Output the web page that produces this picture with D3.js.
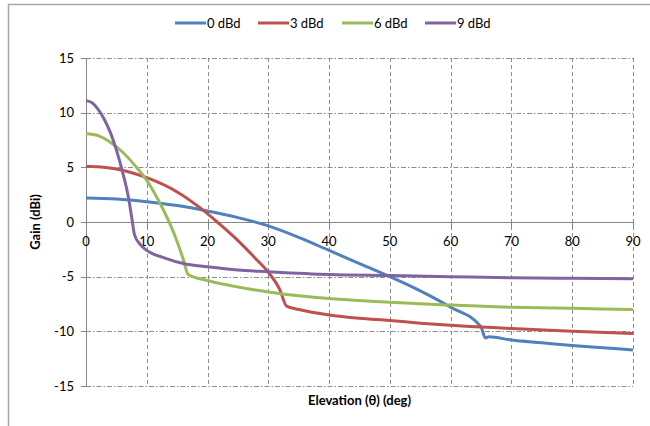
<!DOCTYPE html>
<html><head><meta charset="utf-8">
<script src="https://cdn.jsdelivr.net/npm/d3@7"></script>
<style>body{margin:0;background:#fff}svg{display:block}text{font-family:Lato,"Open Sans",sans-serif}</style>
</head><body><svg id="c" width="650" height="426"></svg>
<script>
const seriesNames = ["0 dBd","3 dBd","6 dBd","9 dBd"];
const seriesColors = ["#4F81BD","#C0504D","#9BBB59","#8064A2"];
const xTicks = [0,10,20,30,40,50,60,70,80,90];
const yTicks = [-15,-10,-5,0,5,10,15];

const elev0 = [0,5,10,15,20,25,30,35,40,45,50,55,60,65,65.7,66.3,70,75,80,85,90];
const gain0 = [2.2,2.1,1.85,1.5,1.0,0.4,-0.35,-1.4,-2.6,-3.8,-5.0,-6.3,-7.8,-9.6,-10.6,-10.5,-10.8,-11.05,-11.3,-11.5,-11.7];
const elev3 = [0,2,5,10,15,19,22,25,28,30,31.9,33,35,40,45,50,55,60,65,70,80,90];
const gain3 = [5.1,5.05,4.85,4.05,2.75,1.2,-0.2,-1.7,-3.4,-4.6,-6.2,-7.7,-8.0,-8.5,-8.8,-9.0,-9.25,-9.45,-9.6,-9.75,-10.0,-10.2];
const elev6 = [0,2,4,6,8,10,11,12,13,14,15,16,16.8,20,25,30,35,40,50,60,70,80,90];
const gain6 = [8.1,7.9,7.3,6.4,5.2,3.8,2.9,1.9,0.8,-0.4,-1.8,-3.4,-4.8,-5.35,-5.95,-6.4,-6.75,-7.0,-7.35,-7.6,-7.8,-7.9,-8.0];
const elev9 = [0,1,2,3,4,5,6,7,7.5,8,9,10,13,16,20,25,30,40,50,60,70,80,90];
const gain9 = [11.1,10.9,10.3,9.4,8.2,6.6,4.6,2.2,0.5,-1.2,-2.1,-2.6,-3.3,-3.8,-4.1,-4.4,-4.55,-4.8,-4.9,-5.0,-5.1,-5.15,-5.2];

const series = [[elev0,gain0],[elev3,gain3],[elev6,gain6],[elev9,gain9]].map((s,i)=>({
  name: seriesNames[i], color: seriesColors[i], pts: s[0].map((e,j)=>[e,s[1][j]])
}));

const svg = d3.select("#c");
// frame
svg.append("path").attr("d","M8.5,430 V4.5 H660").attr("fill","none").attr("stroke","#a6a6a6").attr("stroke-width",1.5);

const x = d3.scaleLinear().domain([0,90]).range([86,633]);
const y = d3.scaleLinear().domain([-15,15]).range([386,58]);

const grid = svg.append("g").attr("stroke","#8c8c8c").attr("stroke-width",1).attr("stroke-dasharray","5,2,1.5,2");
yTicks.filter(t=>t!==0).forEach(t=>{
  grid.append("line").attr("x1",x(0)).attr("x2",x(90)).attr("y1",Math.round(y(t))+0.5).attr("y2",Math.round(y(t))+0.5);
});
grid.selectAll(null).data(xTicks.filter(t=>t!==0)).enter().append("line")
  .attr("x1",d=>Math.round(x(d))+0.5).attr("x2",d=>Math.round(x(d))+0.5).attr("y1",y(15)).attr("y2",y(-15))
  .attr("stroke-dasharray","4,3");

// axes lines
const axG = svg.append("g").attr("stroke","#868686").attr("stroke-width",1);
axG.append("line").attr("x1",x(0)+0.5).attr("x2",x(0)+0.5).attr("y1",y(15)).attr("y2",y(-15));
axG.append("line").attr("x1",x(0)).attr("x2",x(90)).attr("y1",Math.round(y(0))+0.5).attr("y2",Math.round(y(0))+0.5);
yTicks.forEach(t=>axG.append("line").attr("x1",x(0)-5).attr("x2",x(0)).attr("y1",Math.round(y(t))+0.5).attr("y2",Math.round(y(t))+0.5));
xTicks.forEach(t=>axG.append("line").attr("x1",Math.round(x(t))+0.5).attr("x2",Math.round(x(t))+0.5).attr("y1",y(0)).attr("y2",y(0)+5));

// tick labels
svg.append("g").selectAll("text").data(yTicks).enter().append("text")
  .attr("x",x(0)-12).attr("y",d=>y(d)+4.5).attr("text-anchor","end").attr("font-size",13).attr("fill","#000").text(d=>d);
svg.append("g").selectAll("text").data(xTicks).enter().append("text")
  .attr("x",d=>x(d)).attr("y",y(0)+24).attr("text-anchor","middle").attr("font-size",13).attr("fill","#000").text(d=>d);

// lines
const line = d3.line().x(d=>x(d[0])).y(d=>y(d[1])).curve(d3.curveMonotoneX);
svg.append("g").selectAll("path").data(series).enter().append("path")
  .attr("d",d=>line(d.pts)).attr("fill","none").attr("stroke",d=>d.color).attr("stroke-width",3).attr("stroke-linejoin","round");

// titles
svg.append("text").attr("x",(x(0)+x(90))/2).attr("y",405).attr("text-anchor","middle").attr("font-size",13).attr("font-weight","bold").text("Elevation (θ) (deg)");
svg.append("text").attr("transform",`translate(40,${(y(15)+y(-15))/2}) rotate(-90)`).attr("text-anchor","middle").attr("font-size",13).attr("font-weight","bold").text("Gain (dBi)");

// legend
const legX = [175,258,342,425];
const leg = svg.append("g");
series.forEach((s,i)=>{
  leg.append("line").attr("x1",legX[i]).attr("x2",legX[i]+31).attr("y1",23).attr("y2",23).attr("stroke",s.color).attr("stroke-width",3);
  leg.append("text").attr("x",legX[i]+32).attr("y",27.5).attr("font-size",13).text(s.name);
});
</script></body></html>
